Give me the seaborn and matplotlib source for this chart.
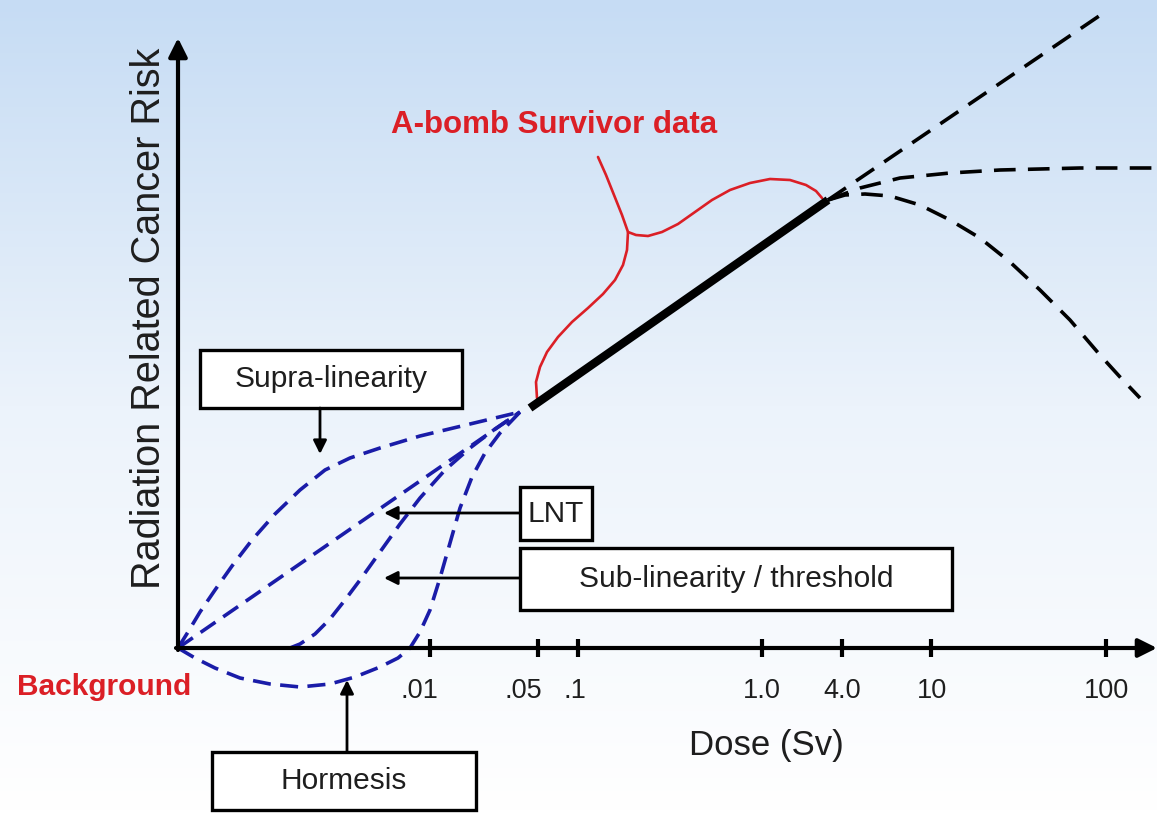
import numpy as np
import pandas as pd
import matplotlib
matplotlib.use("Agg")
import matplotlib.pyplot as plt
from matplotlib.patches import Rectangle
import seaborn as sns

# ---------------- data (schematic dose-response, x = dose-scale position, y = risk) -------------
tick_pos = [430, 538, 578, 762, 842, 931, 1106]
tick_labels = ['.01', '.05', '.1', '1.0', '4.0', '10', '100']

# low-dose models (blue dashed)
supra_x = [178, 188, 200, 215, 232, 252, 275, 300, 325, 350, 380, 420, 470, 520]
supra_y = [0, 16, 36, 58, 82, 108, 134, 158, 178, 190, 200, 212, 224, 236]
lnt_x = [178, 520]
lnt_y = [0, 236]
sub_x = [178, 290, 300, 315, 330, 345, 360, 380, 400, 420, 445, 470, 495, 520]
sub_y = [0, 0, 4, 14, 29, 48, 68, 96, 124, 150, 178, 200, 219, 236]
horm_x = [178, 195, 215, 240, 270, 300, 330, 355, 380, 398, 410, 420, 430, 440, 450, 460,
          472, 485, 500, 520]
horm_y = [0, -10, -20, -30, -36, -39, -36, -29, -19, -10, 0, 16, 38, 70, 105, 140,
          171, 195, 215, 236]

# observed A-bomb survivor range (solid black)
obs_x = [530, 828]
obs_y = [240, 448]

# high-dose extrapolations (black dashed)
lin_x = [828, 1105]
lin_y = [448, 636]
plat_x = [828, 860, 900, 950, 1000, 1080, 1157]
plat_y = [448, 460, 470, 475, 478, 480, 480]
down_x = [828, 845, 865, 890, 920, 950, 980, 1010, 1040, 1070, 1100, 1120, 1140]
down_y = [448, 453, 454, 452, 443, 428, 410, 386, 358, 328, 293, 271, 250]

# red brace marking the A-bomb survivor data range
brace1_x = [598, 606, 614, 622, 628, 636, 648, 662, 678, 695, 712, 730, 750, 770, 790, 806,
            816, 822]
brace1_y = [491, 473, 453, 433, 416, 413, 412, 416, 424, 436, 448, 458, 465, 469, 468, 463,
            457, 450]
brace2_x = [628, 627, 623, 615, 603, 588, 572, 558, 547, 540, 536, 537]
brace2_y = [416, 398, 383, 368, 354, 340, 326, 311, 296, 281, 266, 250]

# ---------------- style -------------
sns.set_theme(style="white")
plt.rcParams['font.family'] = ['Liberation Sans', 'DejaVu Sans']

W, H = 1157, 813
fig = plt.figure(figsize=(W / 100, H / 100), dpi=100)
ax = fig.add_axes([0, 0, 1, 1])
XMIN, XMAX = 0, 1157
YMIN, YMAX = -165, 648
ax.set_xlim(XMIN, XMAX)
ax.set_ylim(YMIN, YMAX)

# background gradient (light blue top -> white bottom)
top = np.array([198, 220, 244]) / 255
mid = np.array([236, 243, 251]) / 255
bot = np.array([255, 255, 255]) / 255
t = np.linspace(0, 1, 256)[:, None]
grad = np.where(t < 0.5, top + (mid - top) * (t / 0.5), mid + (bot - mid) * ((t - 0.5) / 0.5))
ax.imshow(grad[:, None, :].repeat(2, axis=1), extent=[XMIN, XMAX, YMIN, YMAX],
          aspect='auto', origin='upper', zorder=0)

BLUE = '#1a1ca8'
RED = '#db1f26'
TXT = '#1e1e1e'


def frame(xs, ys, name):
    return pd.DataFrame({'x': xs, 'y': ys, 'curve': name})


blue_df = pd.concat([frame(supra_x, supra_y, 'supra'), frame(lnt_x, lnt_y, 'lnt'),
                     frame(sub_x, sub_y, 'sub'), frame(horm_x, horm_y, 'horm')])
for name, g in blue_df.groupby('curve'):
    sns.lineplot(data=g, x='x', y='y', sort=False, estimator=None, ax=ax,
                 color=BLUE, lw=2.6, zorder=3).lines[-1].set_dashes((5, 2.6))

black_df = pd.concat([frame(lin_x, lin_y, 'lin'), frame(plat_x, plat_y, 'plat'),
                      frame(down_x, down_y, 'down')])
for name, g in black_df.groupby('curve'):
    sns.lineplot(data=g, x='x', y='y', sort=False, estimator=None, ax=ax,
                 color='black', lw=2.6, zorder=3).lines[-1].set_dashes((6, 3.4))

sns.lineplot(x=obs_x, y=obs_y, sort=False, estimator=None, ax=ax, color='black',
             lw=6, zorder=4, solid_capstyle='butt')

red_df = pd.concat([frame(brace1_x, brace1_y, 'b1'), frame(brace2_x, brace2_y, 'b2')])
for name, g in red_df.groupby('curve'):
    sns.lineplot(data=g, x='x', y='y', sort=False, estimator=None, ax=ax,
                 color=RED, lw=1.9, zorder=3)

ax.set_xlabel('')
ax.set_ylabel('')
for s in ax.spines.values():
    s.set_visible(False)
ax.set_yticks([])
ax.set_xticks([])

# axes with arrows
ORX, ORY = 178, 0
ax.annotate('', xy=(ORX, 610), xytext=(ORX, ORY - 2),
            arrowprops=dict(arrowstyle='-|>', lw=3, color='black', mutation_scale=28,
                            shrinkA=0, shrinkB=0), zorder=6)
ax.annotate('', xy=(1157, ORY), xytext=(ORX - 2, ORY),
            arrowprops=dict(arrowstyle='-|>', lw=3, color='black', mutation_scale=28,
                            shrinkA=0, shrinkB=0), zorder=6)

# ticks
ax.vlines(tick_pos, ORY - 9, ORY + 9, color='black', lw=3, zorder=6)
label_shift = [-11, -15, -3, 0, 0, 1, 0]
for p, lab, dx in zip(tick_pos, tick_labels, label_shift):
    ax.text(p + dx, ORY - 43, lab, ha='center', va='center', fontsize=19.5, color=TXT, zorder=7)

ax.text(766, ORY - 97, 'Dose (Sv)', ha='center', va='center', fontsize=25, color=TXT)
ax.text(149, 330, 'Radiation Related Cancer Risk', ha='center', va='center', rotation=90,
        fontsize=28.5, color=TXT)
ax.text(104, ORY - 39, 'Background', ha='center', va='center', fontsize=21.5,
        fontweight='bold', color=RED)
ax.text(554, 523, 'A-bomb Survivor data', ha='center', va='center', fontsize=22.5,
        fontweight='bold', color=RED)

# labelled boxes with arrows
boxes = [
    ('Supra-linearity', 200, 240, 262, 58),
    ('LNT', 520, 108, 72, 53),
    ('Sub-linearity / threshold', 520, 38, 432, 62),
    ('Hormesis', 212, -162, 264, 58),
]
for label, bx, by, bw, bh in boxes:
    ax.add_patch(Rectangle((bx, by), bw, bh, facecolor='white', edgecolor='black',
                           lw=2.4, zorder=5))
    ax.text(bx + bw / 2, by + bh / 2, label, ha='center', va='center', fontsize=21.5,
            color=TXT, zorder=6)

arrows = [((320, 240), (320, 194)), ((520, 135), (384, 135)), ((520, 70), (384, 70)),
          ((347, -104), (347, -32))]
for (x0, y0), (x1, y1) in arrows:
    ax.annotate('', xy=(x1, y1), xytext=(x0, y0),
                arrowprops=dict(arrowstyle='-|>', lw=2, color='black', mutation_scale=20,
                                shrinkA=0, shrinkB=0), zorder=6)

fig.savefig('out.png', dpi=100)
